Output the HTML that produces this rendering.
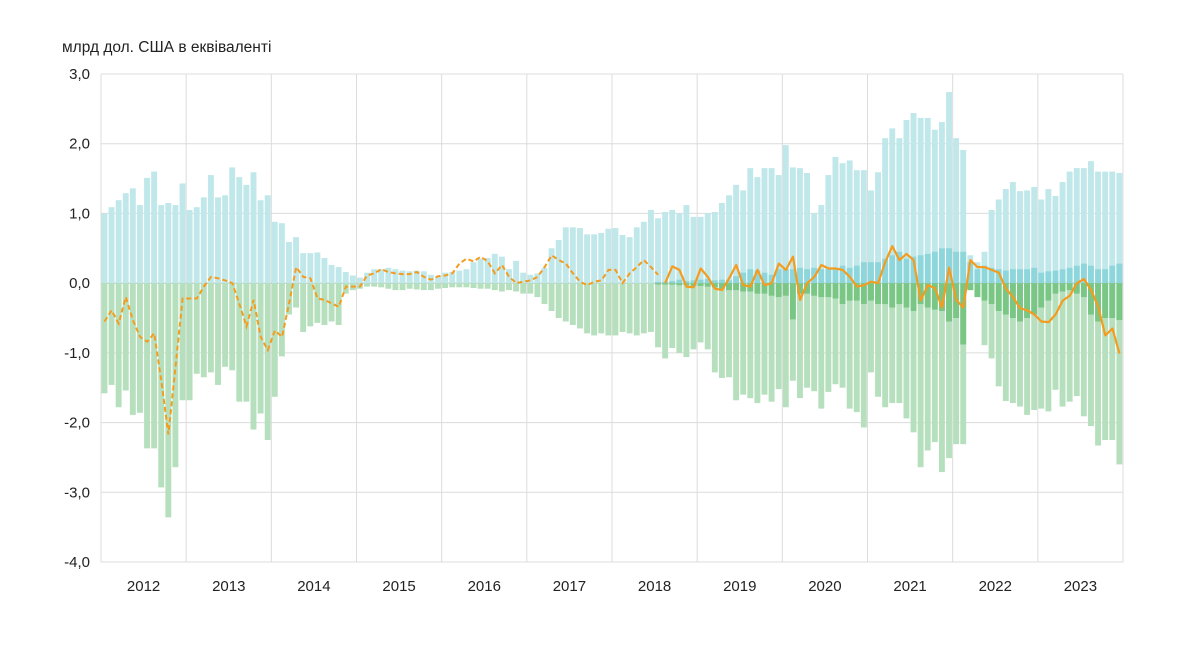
<!DOCTYPE html>
<html><head><meta charset="utf-8"><style>
body{margin:0;background:#fff;}
svg text{font-family:"Liberation Sans",sans-serif;fill:#222;}
</style></head><body>
<svg id="chart" width="1179" height="665" xmlns="http://www.w3.org/2000/svg">
<text x="62" y="52" font-size="15.5">млрд дол. США в еквіваленті</text>
<g id="grid"></g><g id="bars"></g><g id="lines"></g><g id="axes"></g>
</svg>
<script>
const years=["2012","2013","2014","2015","2016","2017","2018","2019","2020","2021","2022","2023"];
const yTicks=[3,2,1,0,-1,-2,-3,-4];
const yTickLabels=["3,0","2,0","1,0","0,0","-1,0","-2,0","-3,0","-4,0"];
const posTotal=[1.0,1.09,1.19,1.29,1.36,1.12,1.51,1.6,1.12,1.15,1.12,1.43,
1.05,1.09,1.23,1.55,1.23,1.26,1.66,1.52,1.41,1.59,1.19,1.26,
0.88,0.86,0.59,0.66,0.43,0.43,0.44,0.36,0.26,0.23,0.16,0.11,
0.08,0.15,0.2,0.2,0.22,0.2,0.18,0.17,0.18,0.17,0.12,0.1,
0.15,0.16,0.18,0.2,0.3,0.35,0.36,0.42,0.38,0.2,0.32,0.15,
0.12,0.14,0.22,0.5,0.62,0.8,0.8,0.79,0.7,0.7,0.72,0.78,
0.79,0.69,0.66,0.8,0.88,1.05,0.93,1.02,1.05,1.0,1.12,0.95,
0.95,1.0,1.02,1.15,1.26,1.41,1.33,1.65,1.52,1.65,1.65,1.55,
1.98,1.66,1.65,1.58,1.0,1.12,1.55,1.81,1.72,1.76,1.62,1.62,
1.33,1.59,2.08,2.22,2.08,2.34,2.44,2.37,2.37,2.2,2.31,2.74,
2.08,1.91,0.4,0.3,0.45,1.05,1.2,1.35,1.45,1.32,1.33,1.38,
1.2,1.35,1.25,1.45,1.6,1.65,1.65,1.75,1.6,1.6,1.6,1.58];
const posInner=[0,0,0,0,0,0,0,0,0,0,0,0, 0,0,0,0,0,0,0,0,0,0,0,0, 0,0,0,0,0,0,0,0,0,0,0,0,
0,0,0,0,0,0,0,0,0,0,0,0, 0,0,0,0,0,0,0,0,0,0,0,0, 0,0,0,0,0,0,0,0,0,0,0,0,
0,0,0,0,0,0,0.02,0.02,0.03,0.05,0.03,0.04,
0.05,0.06,0.04,0.05,0.04,0.1,0.15,0.2,0.18,0.15,0.12,0.2,
0.2,0.2,0.22,0.2,0.22,0.2,0.2,0.22,0.25,0.22,0.25,0.3,
0.3,0.3,0.35,0.4,0.45,0.35,0.38,0.4,0.42,0.45,0.5,0.5,
0.45,0.45,0.3,0.2,0.25,0.22,0.2,0.18,0.2,0.2,0.2,0.22,
0.15,0.17,0.18,0.2,0.22,0.25,0.28,0.25,0.2,0.2,0.25,0.28];
const negTotal=[-1.58,-1.46,-1.78,-1.54,-1.89,-1.86,-2.37,-2.37,-2.93,-3.36,-2.64,-1.68,
-1.68,-1.3,-1.35,-1.28,-1.46,-1.2,-1.25,-1.7,-1.7,-2.1,-1.87,-2.25,
-1.63,-1.05,-0.45,-0.35,-0.7,-0.62,-0.57,-0.6,-0.55,-0.6,-0.15,-0.1,
-0.08,-0.05,-0.05,-0.06,-0.08,-0.1,-0.1,-0.08,-0.09,-0.1,-0.1,-0.08,
-0.07,-0.06,-0.06,-0.06,-0.07,-0.08,-0.08,-0.1,-0.12,-0.1,-0.12,-0.15,
-0.15,-0.2,-0.3,-0.4,-0.5,-0.55,-0.6,-0.65,-0.72,-0.75,-0.72,-0.75,
-0.75,-0.7,-0.72,-0.75,-0.72,-0.7,-0.92,-1.08,-0.93,-1.0,-1.06,-0.95,
-0.85,-0.95,-1.28,-1.36,-1.35,-1.68,-1.6,-1.65,-1.72,-1.6,-1.7,-1.52,
-1.78,-1.4,-1.65,-1.5,-1.55,-1.8,-1.56,-1.45,-1.5,-1.8,-1.85,-2.07,
-1.28,-1.63,-1.78,-1.72,-1.72,-1.94,-2.14,-2.64,-2.4,-2.28,-2.71,-2.51,
-2.31,-2.31,-0.1,-0.2,-0.89,-1.08,-1.48,-1.69,-1.72,-1.77,-1.89,-1.82,
-1.8,-1.84,-1.53,-1.77,-1.7,-1.62,-1.91,-2.05,-2.33,-2.25,-2.25,-2.6];
const negInner=[0,0,0,0,0,0,0,0,0,0,0,0, 0,0,0,0,0,0,0,0,0,0,0,0, 0,0,0,0,0,0,0,0,0,0,0,0,
0,0,0,0,0,0,0,0,0,0,0,0, 0,0,0,0,0,0,0,0,0,0,0,0, 0,0,0,0,0,0,0,0,0,0,0,0,
0,0,0,0,0,0,-0.02,-0.02,-0.02,-0.03,-0.03,-0.04,
-0.04,-0.05,-0.06,-0.08,-0.1,-0.1,-0.12,-0.12,-0.15,-0.15,-0.18,-0.2,
-0.18,-0.52,-0.15,-0.15,-0.18,-0.2,-0.2,-0.22,-0.3,-0.25,-0.25,-0.3,
-0.25,-0.3,-0.3,-0.35,-0.3,-0.35,-0.4,-0.3,-0.35,-0.38,-0.4,-0.55,
-0.5,-0.88,-0.1,-0.2,-0.25,-0.3,-0.4,-0.45,-0.5,-0.55,-0.5,-0.45,
-0.35,-0.25,-0.15,-0.12,-0.1,-0.15,-0.2,-0.45,-0.55,-0.5,-0.5,-0.53];
const balance=[-0.55,-0.39,-0.58,-0.2,-0.53,-0.77,-0.84,-0.72,-1.4,-2.17,-1.2,-0.22,
-0.22,-0.22,-0.05,0.09,0.07,0.04,0.0,-0.3,-0.62,-0.24,-0.77,-0.96,
-0.68,-0.77,-0.29,0.23,0.09,0.07,-0.22,-0.24,-0.29,-0.34,-0.05,-0.05,
-0.05,0.11,0.14,0.2,0.16,0.14,0.13,0.13,0.16,0.09,0.05,0.1,
0.11,0.14,0.28,0.35,0.31,0.38,0.31,0.14,0.26,0.09,0.0,0.02,
0.04,0.09,0.23,0.4,0.33,0.28,0.14,0.02,-0.03,0.02,0.04,0.19,
0.19,0.0,0.14,0.23,0.33,0.23,0.12,0.0,0.24,0.19,-0.05,-0.06,
0.21,0.09,-0.08,-0.1,0.07,0.26,-0.03,-0.05,0.19,-0.03,0.0,0.28,
0.19,0.38,-0.24,0.0,0.09,0.26,0.21,0.21,0.19,0.09,-0.05,-0.03,
0.02,0.0,0.3,0.53,0.33,0.42,0.33,-0.25,-0.03,-0.07,-0.35,0.22,
-0.24,-0.35,0.33,0.23,0.23,0.19,0.15,-0.08,-0.2,-0.36,-0.39,-0.45,
-0.55,-0.56,-0.45,-0.25,-0.18,0.0,0.06,-0.1,-0.34,-0.75,-0.65,-1.01];
const dashedEnd=78;

const X0=101,X1=1123,Y0=74,Y1=562,VMAX=3,VMIN=-4,N=posTotal.length;
const step=(X1-X0)/N;
const x=i=>X0+i*step;
const y=v=>Y0+(VMAX-v)/(VMAX-VMIN)*(Y1-Y0);
const NS="http://www.w3.org/2000/svg";
function mk(tag,attrs,parent){const e=document.createElementNS(NS,tag);for(const k in attrs)e.setAttribute(k,attrs[k]);parent.appendChild(e);return e;}
const grid=document.getElementById('grid'),bars=document.getElementById('bars'),lines=document.getElementById('lines'),axes=document.getElementById('axes');
yTicks.forEach((t,k)=>{
 const l=mk('line',{x1:X0,x2:X1,y1:y(t),y2:y(t),stroke:'#dcdcdc','stroke-width':1},grid);
 
 
 const tx=mk('text',{x:90,y:y(t)+5,'text-anchor':'end','font-size':15},axes);
 tx.textContent=yTickLabels[k];
 
 
});
for(let k=0;k<=years.length;k++){
 const gx=X0+k*12*step;
 const l=mk('line',{x1:gx,x2:gx,y1:Y0,y2:Y1,stroke:'#dcdcdc','stroke-width':1},grid);
 
 
 if(k<years.length){
  const tx=mk('text',{x:gx+6*step,y:591,'text-anchor':'middle','font-size':15},axes);
  tx.textContent=years[k];
  
  
 }
}
function bar(i,v,fill,name){
 if(!v)return;
 const y1=y(Math.max(v,0)),y2=y(Math.min(v,0));
 const r=mk('rect',{x:x(i)+0.5,y:y1,width:step-1.2,height:y2-y1,fill:fill},bars);
 
 
}
for(let i=0;i<N;i++){
 bar(i,posTotal[i],'#c0e8ea','bar-inflow');
 bar(i,negTotal[i],'#b6e0bd','bar-outflow');
 bar(i,posInner[i],'#8dd6dc','bar-inflow-inner');
 bar(i,negInner[i],'#79c685','bar-outflow-inner');
}
const z=mk('line',{x1:X0,x2:X1,y1:y(0),y2:y(0),stroke:'#b8c4c8','stroke-width':1},grid);


const cx=i=>x(i)+step/2;
let d1='',d2='';
for(let i=0;i<=dashedEnd;i++)d1+=(i?'L':'M')+cx(i).toFixed(1)+','+y(balance[i]).toFixed(1);
for(let i=dashedEnd+1;i<N;i++)d2+=(i>dashedEnd+1?'L':'M')+cx(i).toFixed(1)+','+y(balance[i]).toFixed(1);
const p1=mk('path',{d:d1,fill:'none',stroke:'#f39c1f','stroke-width':2,'stroke-dasharray':'5 3'},lines);


const p2=mk('path',{d:d2,fill:'none',stroke:'#f39c1f','stroke-width':2.2,'stroke-linejoin':'round'},lines);


</script>
</body></html>
